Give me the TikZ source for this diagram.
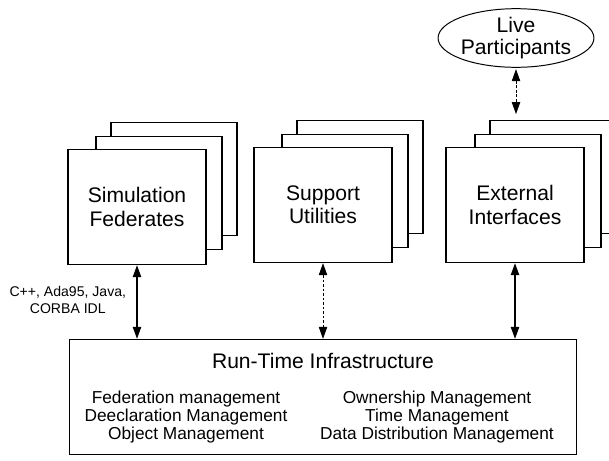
\documentclass[tikz,border=0pt]{standalone}
\usepackage{fontspec}
\setmainfont{Liberation Sans}
\usetikzlibrary{
    shapes.geometric,
    arrows.meta,
    positioning,
    calc
}
\tikzset{
    % Stacked federate pages
    page/.style={
        rectangle,
        draw=black,
        fill=white,
        line width=1pt,
        minimum width=3.15cm,
        minimum height=2.83cm,
        inner sep=0pt
    },
    frontpage/.style={
        page,
        minimum width=3.45cm,
        minimum height=2.875cm,
        align=center,
        font=\fontsize{15}{16.5}\selectfont
    },
    % Infrastructure box
    infra/.style={
        rectangle,
        draw=black,
        line width=1pt,
        minimum width=12.675cm,
        minimum height=2.875cm
    },
    % Live participants bubble
    bubble/.style={
        ellipse,
        draw=black,
        line width=0.7pt,
        minimum width=3.65cm,
        minimum height=1.45cm,
        inner sep=0pt,
        align=center,
        font=\fontsize{15}{15.5}\selectfont
    },
    % Arrow styles
    link/.style={
        {Triangle[length=8.5pt, width=6pt]}-{Triangle[length=8.5pt, width=6pt]},
        line width=0.8pt
    },
    softlink/.style={
        link,
        line width=0.5pt,
        dash pattern=on 2pt off 1.2pt
    },
    % Text styles
    title text/.style={font=\fontsize{15}{17}\selectfont},
    service text/.style={align=center, font=\fontsize{12.3}{12.6}\selectfont},
    api text/.style={align=center, font=\fontsize{10}{12}\selectfont}
}

\begin{document}
\begin{tikzpicture}[x=0.025cm, y=-0.025cm]

        \clip (0,0) rectangle (609,460);

        % Simulation federates stack
        \node[page] (sim3) at (174,179) {};
        \node[page] (sim2) at (159,193) {};
        \node[frontpage] (sim) at (137,207) {Simulation\\Federates};

        % Support utilities stack
        \node[page] (sup3) at (360,177) {};
        \node[page] (sup2) at (345,191) {};
        \node[frontpage] (sup) at (323,205) {Support\\Utilities};

        % External interfaces stack
        \node[page] (ext3) at (553,177) {};
        \node[page] (ext2) at (538,191) {};
        \node[frontpage] (ext) at (515,205) {External\\Interfaces};

        % Live participants
        \node[bubble] (live) at (516,38) {Live\\Participants};
        \draw[softlink, shorten <=1pt, shorten >=4pt] (live.south) -- (live.south |- ext3.north);

        % Run-time infrastructure
        \node[infra] (rti) at (323,397) {};
        \node[title text] (rtititle) at (323,361) {Run-Time Infrastructure};
        \node[service text] (services1) at (186,417) {Federation management\\Deeclaration Management\\Object Management};
        \node[service text] (services2) at (437,417) {Ownership Management\\Time Management\\Data Distribution Management};

        % Connections to the RTI
        \draw[link] (sim.south) -- (sim.south |- rti.north);
        \draw[softlink] (sup.south) -- (sup.south |- rti.north);
        \draw[link] (ext.south) -- (ext.south |- rti.north);

        \node[api text, anchor=east] (api) at (131,300) {C++, Ada95, Java,\\CORBA IDL};

    \end{tikzpicture}
\end{document}
